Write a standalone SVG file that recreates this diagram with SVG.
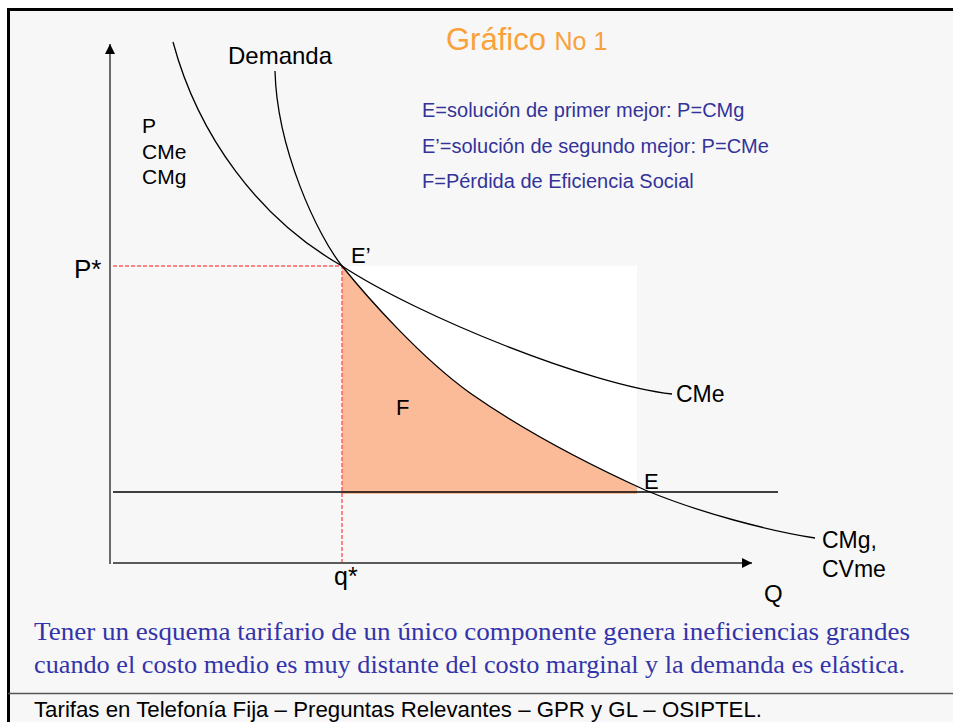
<svg xmlns="http://www.w3.org/2000/svg" width="953" height="722" viewBox="0 0 953 722">
<style>
.sans{font-family:"Liberation Sans",Arial,sans-serif;fill:#000}
.blue{font-family:"Liberation Sans",Arial,sans-serif;fill:#333399;font-size:20px}
.lbl{font-size:23px}
.curve{fill:none;stroke:#000;stroke-width:1.3}
.dash{fill:none;stroke:#ff5f5f;stroke-width:1.5;stroke-dasharray:4 2}
.axis{fill:none;stroke:#5a5a5a;stroke-width:1.8}
.note{font-family:"Liberation Serif","Times New Roman",serif;font-size:26px;fill:#3333aa}
</style>
<defs>
<marker id="arr" viewBox="0 0 10 10" refX="10" refY="5" markerWidth="10" markerHeight="10" markerUnits="userSpaceOnUse" orient="auto"><path d="M0,0 L10,5 L0,10 Z" fill="#000"/></marker>
</defs>
<rect x="0" y="0" width="953" height="722" fill="#ffffff"/>
<rect x="8.5" y="9.5" width="960" height="720" fill="#f7f7f7" stroke="#000" stroke-width="3"/>
<line x1="8" y1="693.5" x2="953" y2="693.5" stroke="#555" stroke-width="1.5"/>

<g id="plot">
<rect x="342" y="266" width="295" height="227" fill="#ffffff"/>
<path id="lossF" d="M342,266 C367,297 420,357 470,393 C530,435 590,465 637,487 L637,494 L342,494 Z" fill="#fcbb98"/>
<line x1="113" y1="492" x2="778" y2="492" stroke="#000" stroke-width="1.3"/>
</g>

<g id="connectors">
<path class="dash" d="M113,266 H342 V563"/>
<line class="axis" x1="110" y1="564" x2="110" y2="44" marker-end="url(#arr)"/>
<line class="axis" x1="113" y1="563" x2="752" y2="563" marker-end="url(#arr)"/>
<path id="demanda" class="curve" d="M275,71 C277,150 318,236 342,266 C367,297 420,357 470,393 C530,435 590,465 645,490 C700,513 770,531 815,538"/>
<path id="cme" class="curve" d="M173,42 C198,135 258,218 342,266 C420,317 590,385 672,394"/>
</g>

<g id="title"><text x="446" y="50" font-family="Liberation Sans,Arial,sans-serif" fill="#f9a13a" font-size="31">Gráfico <tspan font-size="25">No 1</tspan></text></g>
<g id="legend">
<text class="blue" x="422" y="117">E=solución de primer mejor: P=CMg</text>
<text class="blue" x="422" y="153">E’=solución de segundo mejor: P=CMe</text>
<text class="blue" x="422" y="188">F=Pérdida de Eficiencia Social</text>
</g>
<g id="labels" class="sans">
<text class="sans" x="228" y="64" font-size="24">Demanda</text>
<text class="sans" x="142" y="133" font-size="21">P</text>
<text class="sans" x="142" y="159" font-size="21">CMe</text>
<text class="sans" x="142" y="184" font-size="21">CMg</text>
<text class="sans" x="74" y="278" font-size="26">P*</text>
<text class="sans" x="351" y="263" font-size="22">E’</text>
<text class="sans" x="396" y="415" font-size="22">F</text>
<text class="sans" x="644" y="489" font-size="22">E</text>
<text class="sans lbl" x="676" y="402">CMe</text>
<text class="sans lbl" x="822" y="548">CMg,</text>
<text class="sans lbl" x="822" y="577">CVme</text>
<text class="sans" x="334" y="585" font-size="25">q*</text>
<text class="sans" x="764" y="602" font-size="24">Q</text>
</g>
<g id="note">
<text class="note" x="34" y="640" textLength="876" lengthAdjust="spacingAndGlyphs">Tener un esquema tarifario de un único componente genera ineficiencias grandes</text>
<text class="note" x="34" y="673" textLength="871" lengthAdjust="spacingAndGlyphs">cuando el costo medio es muy distante del costo marginal y la demanda es elástica.</text>
</g>
<g id="footer">
<text x="34" y="717" font-family="Liberation Sans,Arial,sans-serif" font-size="22" fill="#000" textLength="728" lengthAdjust="spacingAndGlyphs">Tarifas en Telefonía Fija – Preguntas Relevantes – GPR y GL – OSIPTEL.</text>
</g>
</svg>
